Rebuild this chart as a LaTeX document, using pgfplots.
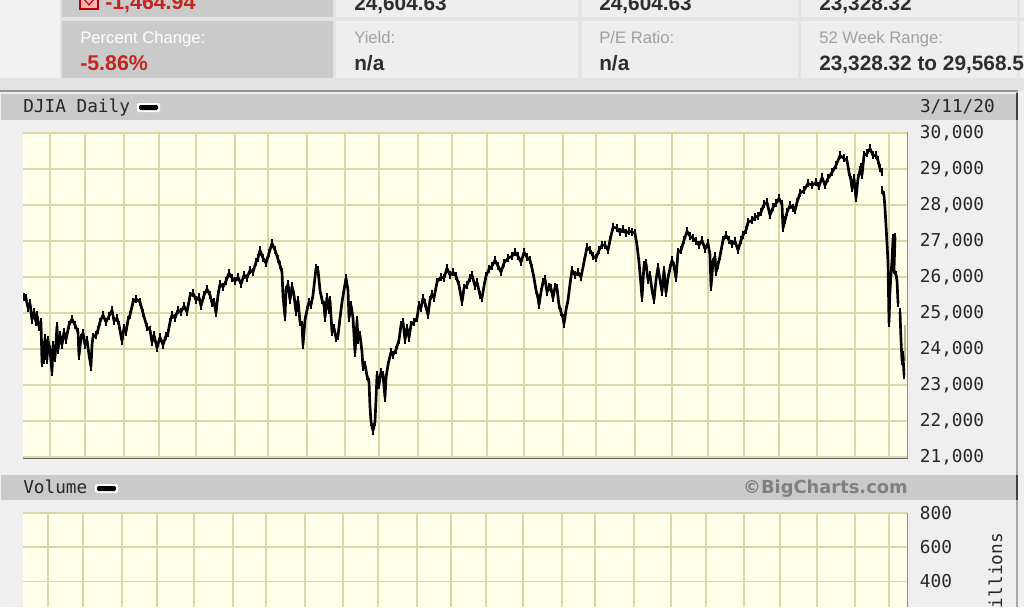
\documentclass[border=0pt]{standalone}
\usepackage{fontspec}
\setmainfont{Liberation Sans}
\newfontfamily\chartfont{DejaVu Sans Mono}
\newfontfamily\wmfont{DejaVu Sans}
\usepackage{pgfplots}
\pgfplotsset{compat=1.18}
\definecolor{pagebg}{HTML}{EFEFEF}
\definecolor{cellbg}{HTML}{EEEEEE}
\definecolor{sepbg}{HTML}{E3E3E3}
\definecolor{barbg}{HTML}{CACACA}
\definecolor{plotbg}{HTML}{FFFFEA}
\definecolor{gridc}{HTML}{D8D8A8}
\definecolor{redtxt}{HTML}{C2261E}
\definecolor{graytxt}{HTML}{A0A0A0}
\definecolor{darktxt}{HTML}{2E2E2E}
\begin{document}
\begin{tikzpicture}[x=0.75pt,y=-0.75pt]
\clip[use as bounding box] (0,0) rectangle (1024,607);
\fill[pagebg] (0,0) rectangle (1024,607);
% header band
\fill[white!95!black] (0,0) rectangle (60,78);
\fill[sepbg] (0,78) rectangle (1024,91);
\fill[sepbg] (60,0) rectangle (1024,78);
\fill[barbg] (62,-5) rectangle (333,17);
\fill[barbg] (62,21) rectangle (333,78);
\foreach \a/\b in {336/578,582/798,801/1017,1020/1030}{
  \fill[cellbg] (\a,-5) rectangle (\b,17);
  \fill[cellbg] (\a,21) rectangle (\b,78);
}
\fill[white!70!red] (80,-3) rectangle (98,9);
\draw[red!75!black,line width=0.8pt] (80,-3) rectangle (98,9);
\draw[red!75!black,line width=0.9pt] (84,-1) -- (89,5) -- (94,-1);
\node[anchor=base west,inner sep=0pt,font=\fontsize{16}{16}\selectfont\bfseries,text=redtxt] at (105,9) {-1,464.94};
\node[anchor=base west,inner sep=0pt,font=\fontsize{15.6}{16}\selectfont\bfseries,text=darktxt] at (354,10) {24,604.63};
\node[anchor=base west,inner sep=0pt,font=\fontsize{15.6}{16}\selectfont\bfseries,text=darktxt] at (599,10) {24,604.63};
\node[anchor=base west,inner sep=0pt,font=\fontsize{15.6}{16}\selectfont\bfseries,text=darktxt] at (819,10) {23,328.32};
\node[anchor=base west,inner sep=0pt,font=\fontsize{12.5}{13}\selectfont,text=white] at (80,43) {Percent Change:};
\node[anchor=base west,inner sep=0pt,font=\fontsize{16}{16}\selectfont\bfseries,text=redtxt] at (80,70) {-5.86\%};
\node[anchor=base west,inner sep=0pt,font=\fontsize{12.5}{13}\selectfont,text=graytxt] at (354,43) {Yield:};
\node[anchor=base west,inner sep=0pt,font=\fontsize{15.6}{16}\selectfont\bfseries,text=darktxt] at (354,70) {n/a};
\node[anchor=base west,inner sep=0pt,font=\fontsize{12.5}{13}\selectfont,text=graytxt] at (599,43) {P/E Ratio:};
\node[anchor=base west,inner sep=0pt,font=\fontsize{15.6}{16}\selectfont\bfseries,text=darktxt] at (599,70) {n/a};
\node[anchor=base west,inner sep=0pt,font=\fontsize{12.5}{13}\selectfont,text=graytxt] at (819,43) {52 Week Range:};
\node[anchor=base west,inner sep=0pt,font=\fontsize{15.6}{16}\selectfont\bfseries,text=darktxt] at (819,70) {23,328.32 to 29,568.57};
% frame and section bars
\draw[gray!85,line width=1.2pt] (0,91) -- (1018,91);
\fill[barbg] (1,94) rectangle (1017,120);
\fill[barbg] (1,475) rectangle (1017,500);
\draw[gray!70,line width=1.5pt] (1017,91) -- (1017,607);
\draw[black!75,line width=1.5pt] (1017,93) -- (1017,120);
\draw[black!75,line width=1.5pt] (1017,475) -- (1017,500);
\fill[pagebg] (1018,91) rectangle (1024,607);
\node[anchor=base west,inner sep=0pt,font=\chartfont\fontsize{13.3}{13}\selectfont,text=black!85] at (23,112) {DJIA Daily};
\node[anchor=base west,inner sep=0pt,font=\chartfont\fontsize{13.3}{13}\selectfont,text=black!85] at (23,493) {Volume};
\fill[white,rounded corners=1pt] (137,103) rectangle (160,112);
\fill[black,rounded corners=1pt] (139,105) rectangle (158,110);
\fill[white,rounded corners=1pt] (95,484) rectangle (118,493);
\fill[black,rounded corners=1pt] (97,486) rectangle (116,491);
\node[anchor=base east,inner sep=0pt,font=\chartfont\fontsize{13.3}{13}\selectfont,text=black!85] at (995,112) {3/11/20};
\node[anchor=base east,inner sep=0pt,font=\wmfont\bfseries\fontsize{13.4}{13}\selectfont,text=gray] at (908,493) {©BigCharts.com};
\node[rotate=90,anchor=base east,inner sep=0pt,font=\chartfont\fontsize{13.3}{13}\selectfont,text=black!85] at (1002,533) {Millions};
% price axis
\begin{axis}[
  at={(17.25pt,-342.75pt)},anchor=south west,
  scale only axis,width=663pt,height=243pt,
  xmin=23,xmax=907,ymin=21000,ymax=30000,
  axis background/.style={fill=plotbg},
  axis line style={draw=none},
  clip=false,
  xtick={50,85,124,159,196,235,268,307,345,379,418,452,487,524,563,596,635,672,708,744,779,817,855,889},
  xticklabels={},
  ytick={21000,22000,23000,24000,25000,26000,27000,28000,29000,30000},
  yticklabel pos=right,
  major tick length=0pt,
  xmajorgrids,ymajorgrids,
  grid style={gridc,line width=1.4pt},
  scaled y ticks=false,
  /pgf/number format/1000 sep={,},
  /pgf/number format/assume math mode=true,
  y tick label style={font=\chartfont\fontsize{13.3}{13}\selectfont,text=black!85,anchor=west,xshift=9.5pt,inner xsep=0pt},
  unbounded coords=jump,
]
\addplot[color={rgb,255:red,190;green,185;blue,130},line width=1.4pt,forget plot] coordinates {(905,24660) (905,23660)};
\addplot[black,line width=2pt,line join=bevel,mark=|,mark size=3pt,mark options={line width=1.3pt},forget plot] table[x index=0,y index=1] {
24 25443
26 25415
28 25140
30 25277
32 24806
34 25028
36 24751
37 24945
39 24612
41 24751
42 23615
43 24114
44 23698
45 24307
47 23698
48 24252
50 23975
52 23366
53 24114
55 23750
57 24640
58 23975
60 24390
62 24114
64 24474
66 24252
69 24668
72 24834
75 24668
78 24474
79 23809
81 24307
83 24446
85 24114
87 24252
89 23837
91 23504
92 24114
93 24335
96 24390
98 24529
100 24751
103 24945
106 24751
109 24917
112 25083
114 24778
117 24861
119 24668
121 24363
122 24224
124 24585
126 24474
128 24806
130 24945
133 25305
136 25388
140 25305
143 25000
147 24612
150 24529
152 24197
154 24390
157 24030
160 24335
163 24114
166 24363
168 24446
170 24751
172 24945
175 24861
178 25083
181 25028
184 25194
187 25028
190 25471
193 25554
196 25360
199 25443
201 25194
204 25498
207 25665
210 25498
212 25277
214 25305
216 25000
218 25498
220 25803
223 25720
226 25886
229 26108
232 25970
235 25886
238 25997
241 25803
244 26053
247 25970
250 26191
253 26135
256 26413
258 26524
260 26745
263 26524
266 26385
269 26662
272 26939
275 26745
278 26496
280 26330
282 26135
283 25471
285 24889
286 25637
288 25803
290 25360
292 25748
294 25498
296 25028
298 25360
300 24751
302 24668
303 24114
305 24806
307 25083
309 25305
311 25222
313 25498
316 26246
318 26191
320 25637
322 25360
324 25222
325 24861
327 25443
329 25083
330 25360
332 24474
334 24585
336 24307
338 24363
340 24861
342 25305
344 25637
346 25969
348 25637
349 24861
351 25222
353 24861
355 23892
357 24806
358 24252
360 24390
362 23920
363 23504
365 23560
367 23255
369 23089
370 22396
371 21980
373 21731
375 21980
376 22590
377 23283
379 23006
381 23366
383 23283
385 22646
386 23200
388 23560
391 23920
393 23837
396 23975
399 24252
401 24668
403 24751
405 24252
407 24585
409 24307
411 24668
414 24751
417 24861
419 25222
421 25139
423 25416
425 25277
428 24945
430 25360
432 25526
434 25416
437 25859
441 25997
444 25970
447 26246
450 26053
453 26135
456 26025
459 25776
462 25305
464 25692
467 25776
470 25970
472 26053
475 25748
477 25859
480 25498
482 25416
484 25748
486 26025
489 26219
492 26302
495 26468
498 26302
501 26135
504 26385
508 26524
512 26579
515 26690
518 26579
521 26413
524 26690
527 26551
530 26468
532 26246
534 25969
536 25637
538 25416
539 25222
541 25582
543 25859
545 25942
547 25582
549 25720
551 25692
553 25416
555 25720
557 25692
559 25222
561 25028
563 24861
564 24695
566 25083
568 25360
570 25803
572 26191
575 26053
578 26135
581 25997
584 26413
587 26828
590 26745
593 26579
596 26524
599 26745
602 26884
605 26884
608 26745
610 27022
613 27382
617 27355
620 27244
623 27327
626 27216
629 27272
632 27244
635 27216
637 26884
639 26413
641 25776
642 25416
644 26330
646 26385
648 25914
650 26053
652 25637
654 25360
656 25914
658 26274
660 25914
662 25582
664 26191
666 25554
668 25970
670 26246
672 26468
674 26302
676 25969
678 26690
681 26745
684 27022
687 27272
690 27133
693 27078
696 26994
699 26884
702 27022
705 26773
708 26939
710 26607
711 25720
713 26413
715 26579
716 26135
718 26330
720 26579
723 27022
726 27161
729 27022
732 26911
735 26994
738 26745
741 27022
743 27161
746 27299
748 27521
752 27576
755 27659
758 27687
761 27798
764 28019
767 28075
770 27715
773 27936
776 28047
779 28186
782 28019
783 27355
785 27576
787 27798
790 27992
793 27909
795 27853
797 28075
800 28324
804 28407
808 28601
812 28546
816 28629
819 28518
822 28767
825 28546
828 28739
832 28905
836 29099
840 29376
844 29293
847 29238
849 28905
851 28684
852 28463
854 28739
856 28186
858 28739
860 28961
861 29044
862 28822
864 29376
867 29432
870 29570
873 29376
876 29376
878 29238
880 29017
882 28905
nan nan
882 28407
884 28268
885 27909
886 27438
887 26939
888 26413
889 24723
890 25637
892 26468
893 27078
895 27105
894 26191
896 26053
897 25914
898 25277
nan nan
900 25028
901 24252
902 23670
903 23836
904 23283
};
\end{axis}
\draw[black!60,line width=1.2pt] (23,458.5) -- (908,458.5);
\draw[black!45,line width=1.2pt] (907.5,132) -- (907.5,458);
% volume axis
\begin{axis}[
  at={(17.25pt,-455.25pt)},anchor=south west,
  scale only axis,width=663pt,height=70.5pt,
  xmin=23,xmax=907,ymin=250,ymax=800,
  axis background/.style={fill=plotbg},
  axis line style={draw=none},
  clip=false,
  xtick={48,83,122,157,194,233,266,305,343,378,417,451,486,523,562,595,634,671,706,744,780,817,855,889},
  xticklabels={},
  ytick={400,600,800},
  yticklabel pos=right,
  major tick length=0pt,
  xmajorgrids,ymajorgrids,
  grid style={gridc,line width=1.1pt},
  /pgf/number format/assume math mode=true,
  y tick label style={font=\chartfont\fontsize{13.3}{13}\selectfont,text=black!85,anchor=west,xshift=9.5pt,inner xsep=0pt},
]
\end{axis}
\draw[black!45,line width=1.2pt] (907.5,513) -- (907.5,607);
\end{tikzpicture}
\end{document}
